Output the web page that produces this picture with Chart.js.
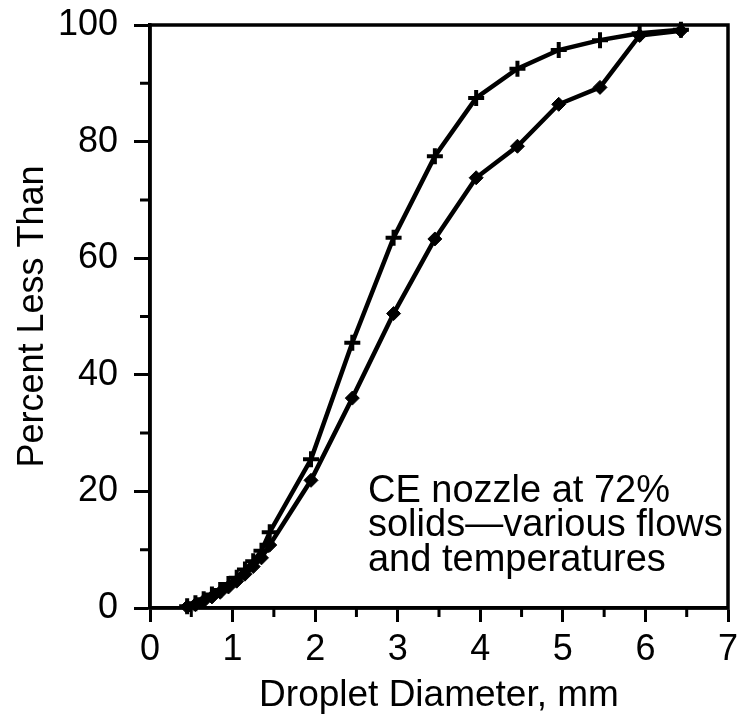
<!DOCTYPE html>
<html>
<head>
<meta charset="utf-8">
<script src="https://cdn.jsdelivr.net/npm/chart.js@4"></script>
<style>
  body { margin: 0; background: #fff; }
</style>
</head>
<body>
<canvas id="myChart" width="742" height="714"></canvas>
<script>
// droplet diameter (mm) of the measured points
const diameters = [0.45, 0.55, 0.65, 0.75, 0.85, 0.95, 1.05, 1.15, 1.25, 1.35, 1.45, 1.95, 2.45, 2.95, 3.45, 3.95, 4.45, 4.95, 5.45, 5.93, 6.43]
// percent less than, "+" curve (upper)
const crossSeries = [0.3, 0.8, 1.5, 2.3, 3.1, 4.1, 5.2, 6.6, 8.0, 9.8, 13.0, 25.5, 45.5, 63.5, 77.5, 87.5, 92.5, 95.7, 97.4, 98.6, 99.2]
// percent less than, diamond curve (lower)
const diamondSeries = [0.2, 0.6, 1.2, 1.9, 2.7, 3.6, 4.6, 5.8, 7.1, 8.6, 10.8, 21.9, 36.0, 50.5, 63.3, 73.8, 79.2, 86.4, 89.3, 98.2, 99.0]

const xMinorTicks = [0.5, 1.5, 2.5, 3.5, 4.5, 5.5, 6.5]
const yMinorTicks = [10, 30, 50, 70, 90]

const noteLines = ['CE nozzle at 72%', 'solids\u2014various flows', 'and temperatures']
const noteX = 2.64
const noteY = [18.2, 12.3, 6.3]

const FONT = "'Liberation Sans', Arial, sans-serif"

function toPoints(xs, ys) {
  return xs.map((v, i) => ({ x: v, y: ys[i] }))
}

const framePlugin = {
  id: 'frame',
  afterDraw(chart) {
    const ctx = chart.ctx
    const a = chart.chartArea
    const x = chart.scales.x
    const y = chart.scales.y
    ctx.save()
    ctx.strokeStyle = '#000'
    ctx.lineWidth = 3.5
    ctx.strokeRect(a.left, a.top, a.right - a.left, a.bottom - a.top)
    ctx.lineWidth = 3
    ctx.beginPath()
    xMinorTicks.forEach(v => {
      const px = x.getPixelForValue(v)
      ctx.moveTo(px, a.bottom)
      ctx.lineTo(px, a.bottom + 9)
    })
    yMinorTicks.forEach(v => {
      const py = y.getPixelForValue(v)
      ctx.moveTo(a.left - 10, py)
      ctx.lineTo(a.left, py)
    })
    ctx.stroke()

    // note text
    ctx.fillStyle = '#000'
    ctx.font = '38px ' + FONT
    ctx.textAlign = 'left'
    ctx.textBaseline = 'alphabetic'
    noteLines.forEach((t, i) => {
      ctx.fillText(t, x.getPixelForValue(noteX), y.getPixelForValue(noteY[i]))
    })
    ctx.restore()
  }
}

var ctx = document.getElementById('myChart').getContext('2d')
var myChart = new Chart(ctx, {
  type: 'scatter',
  data: {
    datasets: [
      {
        label: 'upper',
        data: toPoints(diameters, crossSeries),
        showLine: true,
        tension: 0,
        borderColor: '#000',
        borderWidth: 4.5,
        pointStyle: 'cross',
        pointRadius: 8,
        pointBorderWidth: 4,
        pointBorderColor: '#000',
        pointBackgroundColor: '#000'
      },
      {
        label: 'lower',
        data: toPoints(diameters, diamondSeries),
        showLine: true,
        tension: 0,
        borderColor: '#000',
        borderWidth: 4.5,
        pointStyle: 'rectRot',
        pointRadius: 7,
        pointBorderWidth: 1,
        pointBorderColor: '#000',
        pointBackgroundColor: '#000'
      }
    ]
  },
  options: {
    responsive: false,
    animation: false,
    clip: false,
    layout: { padding: { top: 25, right: 14, left: 0, bottom: 0 } },
    plugins: {
      legend: { display: false },
      tooltip: { enabled: false }
    },
    scales: {
      x: {
        type: 'linear',
        min: 0,
        max: 7,
        border: { color: '#000', width: 3.5 },
        grid: { drawOnChartArea: false, color: '#000', tickLength: 14, tickWidth: 3 },
        ticks: { stepSize: 1, color: '#000', padding: 6, font: { family: FONT, size: 36 } },
        title: {
          display: true,
          text: 'Droplet Diameter, mm',
          color: '#000',
          font: { family: FONT, size: 37, lineHeight: 1 },
          padding: { top: 0, bottom: 0 }
        },
        afterFit(scale) {
          scale.height = 106
          scale.paddingLeft = 0
          scale.paddingRight = 0
        }
      },
      y: {
        min: 0,
        max: 100,
        border: { color: '#000', width: 3.5 },
        grid: { drawOnChartArea: false, color: '#000', tickLength: 16, tickWidth: 3 },
        ticks: { stepSize: 20, color: '#000', padding: 16, font: { family: FONT, size: 36 } },
        title: {
          display: true,
          text: 'Percent Less Than',
          color: '#000',
          font: { family: FONT, size: 36, lineHeight: 1 },
          padding: { top: 15, bottom: 0 }
        },
        afterFit(scale) {
          scale.width = 150
          scale.paddingTop = 0
          scale.paddingBottom = 0
        }
      }
    }
  },
  plugins: [framePlugin]
})
</script>
</body>
</html>
